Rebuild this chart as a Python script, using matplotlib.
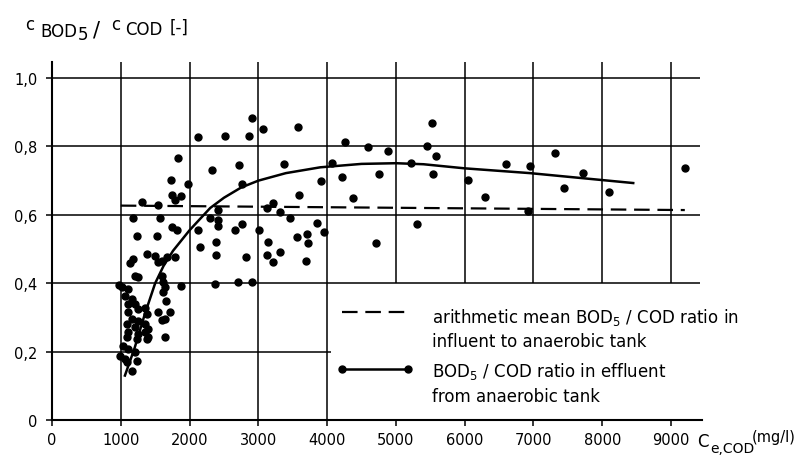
import numpy as np
import matplotlib
matplotlib.use("Agg")
import matplotlib.pyplot as plt

plt.rcParams['font.family'] = ['DejaVu Sans']
plt.rcParams['mathtext.default'] = 'regular'

# measured BOD5/COD ratio in effluent of anaerobic tank
cod_e = [1182, 1134, 1376, 1497, 1545, 1594, 1667, 1788,
         1206, 1255, 1594, 1618, 980, 1013, 1109, 1642, 1870,
         1061, 1158, 1618, 1652, 1109, 1206, 1255, 1352, 1545, 1715, 1109, 1376,
         1158, 1255, 1594, 1642, 1085, 1206, 1352, 1400, 1109, 1255, 1352, 1400,
         1085, 1231, 1376, 1642, 1037, 1109, 1206, 988, 1061, 1085, 1231, 1158,
         1836, 1730, 1972, 1740, 1875, 1788, 1304, 1536, 1182, 1570, 1231, 1522,
         1740, 1812,
         2903, 3072, 3571, 2117, 2515, 2863, 2321, 2723, 3372, 4075, 2766, 3910,
         3590, 2418, 3212, 3125, 3319, 2297, 2408, 2418, 3454, 2127, 2660, 2766,
         3009, 3856, 3958, 2151, 2379, 2379, 2815, 3135, 3125, 3212, 3319, 3561,
         3706, 3716, 3697, 2369, 2699, 2903,
         5528, 4254, 4588, 4879, 5455, 5581, 5218, 4220, 4748, 5533, 6042, 4380,
         6289, 5300, 4714, 6594, 6948, 7306, 7723, 7437, 8096, 6914, 9196]
ratio = [0.471, 0.459, 0.485, 0.480, 0.461, 0.466, 0.476, 0.476,
         0.422, 0.417, 0.422, 0.403, 0.395, 0.388, 0.383, 0.388, 0.393,
         0.364, 0.354, 0.373, 0.349, 0.339, 0.339, 0.325, 0.329, 0.317, 0.317, 0.315, 0.310,
         0.295, 0.290, 0.292, 0.295, 0.281, 0.271, 0.281, 0.266, 0.256, 0.251, 0.256, 0.242,
         0.242, 0.237, 0.237, 0.242, 0.217, 0.208, 0.198, 0.188, 0.178, 0.169, 0.173, 0.144,
         0.765, 0.702, 0.690, 0.658, 0.656, 0.643, 0.638, 0.629, 0.590, 0.590, 0.537, 0.537,
         0.563, 0.556,
         0.883, 0.851, 0.857, 0.827, 0.830, 0.830, 0.732, 0.746, 0.749, 0.751, 0.689, 0.699,
         0.658, 0.613, 0.635, 0.619, 0.607, 0.590, 0.586, 0.567, 0.592, 0.555, 0.557, 0.574,
         0.555, 0.576, 0.551, 0.506, 0.522, 0.482, 0.477, 0.521, 0.482, 0.461, 0.490, 0.535,
         0.543, 0.518, 0.464, 0.399, 0.403, 0.405,
         0.868, 0.812, 0.797, 0.786, 0.802, 0.771, 0.753, 0.711, 0.719, 0.720, 0.703, 0.649,
         0.652, 0.573, 0.518, 0.749, 0.744, 0.780, 0.721, 0.678, 0.667, 0.612, 0.737]

# fitted curve (effluent)
fit_x = [1060, 1200, 1350, 1500, 1620, 1760, 2000, 2300, 2500, 2750, 3000,
         3400, 3900, 4500, 5000, 5400, 6000, 6950, 8450]
fit_y = [0.13, 0.21, 0.31, 0.40, 0.45, 0.495, 0.555, 0.62, 0.65, 0.68, 0.70,
         0.722, 0.739, 0.749, 0.751, 0.748, 0.736, 0.722, 0.693]

# arithmetic mean in influent
mean_x = [1000, 9200]
mean_y = [0.627, 0.614]

x_ticks = [0, 1000, 2000, 3000, 4000, 5000, 6000, 7000, 8000, 9000]
y_ticks = [0, 0.2, 0.4, 0.6, 0.8, 1.0]
y_labels = ["0", "0,2", "0,4", "0,6", "0,8", "1,0"]

W, H = 810, 456


def fx(px):
    return px / W


def fy(py):
    return 1 - py / H


fig = plt.figure(figsize=(8.1, 4.56), dpi=100)
ax = fig.add_axes([fx(52), fy(421), fx(702) - fx(52), fy(63) - fy(421)])

# grid (irregular, like the original drawing)
ax.vlines(x_ticks[1:5], 0, 1.047, color='k', lw=1.1)
ax.vlines(x_ticks[5:], 0.4, 1.047, color='k', lw=1.1)
ax.hlines(y_ticks[2:], 0, 9420, color='k', lw=1.1)
ax.hlines(y_ticks[1], 0, 4050, color='k', lw=1.1)

ax.plot(mean_x, mean_y, color='k', lw=1.6, dashes=(7, 3.5))
ax.plot(fit_x, fit_y, color='k', lw=1.8)
ax.plot(cod_e, ratio, 'o', color='k', ms=5, mec='k')

ax.set_xlim(0, 9450)
ax.set_ylim(0, 1.047)
ax.set_xticks(x_ticks)
ax.set_xticklabels([str(v) for v in x_ticks], fontsize=10.5)
ax.set_yticks(y_ticks)
ax.set_yticklabels(y_labels, fontsize=10.5)
for s in ['top', 'right']:
    ax.spines[s].set_visible(False)
for s in ['left', 'bottom']:
    ax.spines[s].set_linewidth(1.5)
ax.tick_params(axis='both', direction='out', length=4.5, width=1.1)
ax.tick_params(axis='x', pad=4)
ax.tick_params(axis='y', pad=6)

# y-axis title pieces
fs = 12
fig.text(fx(25), fy(30), "c", fontsize=fs, va='baseline')
fig.text(fx(40), fy(37), "BOD", fontsize=fs, va='baseline')
fig.text(fx(78), fy(40), "5", fontsize=fs, va='baseline')
fig.text(fx(93), fy(37), "/", fontsize=15, va='baseline')
fig.text(fx(111), fy(30), "c", fontsize=fs, va='baseline')
fig.text(fx(125), fy(35), "COD", fontsize=fs, va='baseline')
fig.text(fx(170), fy(33), "[-]", fontsize=fs, va='baseline')

# x-axis title
fig.text(fx(697), fy(447), "C", fontsize=12, va='baseline')
fig.text(fx(710), fy(453), "e,COD", fontsize=10, va='baseline')
fig.text(fx(752), fy(442), "(mg/l)", fontsize=10.5, va='baseline')

# legend
ax.plot([fx(342), fx(409)], [fy(313), fy(313)], color='k', lw=1.6,
        dashes=(7, 3.5), transform=fig.transFigure, clip_on=False)
ax.plot([fx(342), fx(408)], [fy(370), fy(370)], color='k', lw=1.8,
        marker='o', ms=5, transform=fig.transFigure, clip_on=False)
lfs = 12
fig.text(fx(432), fy(317), "arithmetic mean BOD$_5$ / COD ratio in", fontsize=lfs, va='center')
fig.text(fx(432), fy(342), "influent to anaerobic tank", fontsize=lfs, va='center')
fig.text(fx(432), fy(372), "BOD$_5$ / COD ratio in effluent", fontsize=lfs, va='center')
fig.text(fx(432), fy(397), "from anaerobic tank", fontsize=lfs, va='center')

fig.savefig("out.png", dpi=100, facecolor='white')
